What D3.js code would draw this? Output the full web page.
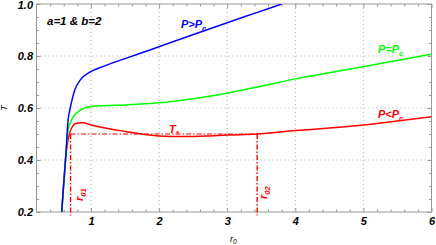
<!DOCTYPE html>
<html>
<head>
<meta charset="utf-8">
<script src="https://cdn.jsdelivr.net/npm/d3@7"></script>
<style>
  body { margin: 0; background: #fff; }
  svg { display: block; font-family: "Liberation Sans", Arial, sans-serif; }
</style>
</head>
<body>
<svg id="chart" width="436" height="245"></svg>
<script>
// data
const rBlue  = [0.57, 0.60, 0.626, 0.664, 0.689, 0.73, 0.762, 0.85, 0.983, 1.2, 1.5, 1.864, 2.4, 3.0, 3.4, 3.8];
const tBlue  = [0.20, 0.31, 0.40, 0.554, 0.592, 0.64, 0.669, 0.71, 0.738, 0.762, 0.790, 0.823, 0.873, 0.928, 0.964, 1.0];

const rGreen = [0.57, 0.60, 0.63, 0.664, 0.70, 0.737, 0.80, 0.861, 0.98, 1.2, 1.5, 2.0, 2.5, 3.0, 3.5, 4.0, 4.5, 5.0, 5.5, 6.0];
const tGreen = [0.20, 0.31, 0.42, 0.515, 0.545, 0.565, 0.583, 0.595, 0.605, 0.609, 0.612, 0.620, 0.636, 0.657, 0.684, 0.712, 0.736, 0.759, 0.783, 0.807];

const rRed   = [0.57, 0.60, 0.625, 0.664, 0.714, 0.787, 0.88, 1.0, 1.5, 1.864, 2.0, 2.3, 2.7, 3.0, 3.44, 4.0, 4.5, 5.0, 5.5, 6.0];
const tRed   = [0.20, 0.31, 0.40, 0.477, 0.522, 0.541, 0.543, 0.535, 0.510, 0.496, 0.492, 0.490, 0.492, 0.496, 0.500, 0.513, 0.523, 0.535, 0.550, 0.566];

const tStar = 0.5;
const r01 = 0.70;
const r02 = 3.44;

const xMajor = [1, 2, 3, 4, 5, 6];
const yMajor = [0.2, 0.4, 0.6, 0.8, 1.0];
const xGrid = [1, 2, 3, 4, 5];
const yGrid = [0.4, 0.6, 0.8];

const svg = d3.select("#chart");
const mLeft = 36.5, mRight = 431.5, mTop = 4, mBottom = 212;

const x = d3.scaleLinear().domain([0.2, 6]).range([mLeft, mRight]);
const y = d3.scaleLinear().domain([0.2, 1.0]).range([mBottom, mTop]);

const xMinor = d3.range(2, 31).map(d => d / 5).filter(d => !xMajor.some(m => Math.abs(m - d) < 1e-9));
const yMinor = d3.range(4, 21).map(d => d / 20).filter(d => !yMajor.some(m => Math.abs(m - d) < 1e-9));

// grid
svg.append("g").selectAll("line")
  .data(xGrid).enter().append("line")
  .attr("x1", d => x(d)).attr("x2", d => x(d))
  .attr("y1", mTop).attr("y2", mBottom)
  .style("stroke", "#aaa").style("stroke-dasharray", "1,3");
svg.append("g").selectAll("line")
  .data(yGrid).enter().append("line")
  .attr("y1", d => y(d)).attr("y2", d => y(d))
  .attr("x1", mLeft).attr("x2", mRight)
  .style("stroke", "#aaa").style("stroke-dasharray", "1,3");

// frame ticks (inward), mathematica style
function styleAxis(g) {
  g.select(".domain").remove();
  g.selectAll("line").style("stroke", "#999");
  g.selectAll("text")
    .style("font-size", "11px")
    .style("font-weight", "bold")
    .style("font-style", "italic")
    .style("fill", "#000");
}

svg.append("g").attr("transform", `translate(0,${mBottom})`)
  .call(d3.axisBottom(x).tickValues(xMajor).tickSizeInner(-4).tickSizeOuter(0).tickPadding(5).tickFormat(d3.format("d")))
  .call(styleAxis);
svg.append("g").attr("transform", `translate(0,${mBottom})`)
  .call(d3.axisBottom(x).tickValues(xMinor).tickSizeInner(-2.5).tickSizeOuter(0).tickFormat(""))
  .call(styleAxis);
svg.append("g").attr("transform", `translate(0,${mTop})`)
  .call(d3.axisTop(x).tickValues(xMajor).tickSizeInner(-4).tickSizeOuter(0).tickFormat(""))
  .call(styleAxis);
svg.append("g").attr("transform", `translate(0,${mTop})`)
  .call(d3.axisTop(x).tickValues(xMinor).tickSizeInner(-2.5).tickSizeOuter(0).tickFormat(""))
  .call(styleAxis);

svg.append("g").attr("transform", `translate(${mLeft},0)`)
  .call(d3.axisLeft(y).tickValues(yMajor).tickSizeInner(-4).tickSizeOuter(0).tickPadding(3.5).tickFormat(d3.format(".1f")))
  .call(styleAxis)
  .selectAll("text").filter(d => d === 1.0)
  .attr("dy", "0.45em");   // keep the top label inside the picture
svg.append("g").attr("transform", `translate(${mLeft},0)`)
  .call(d3.axisLeft(y).tickValues(yMinor).tickSizeInner(-2.5).tickSizeOuter(0).tickFormat(""))
  .call(styleAxis);
svg.append("g").attr("transform", `translate(${mRight},0)`)
  .call(d3.axisRight(y).tickValues(yMajor).tickSizeInner(-4).tickSizeOuter(0).tickFormat(""))
  .call(styleAxis);
svg.append("g").attr("transform", `translate(${mRight},0)`)
  .call(d3.axisRight(y).tickValues(yMinor).tickSizeInner(-2.5).tickSizeOuter(0).tickFormat(""))
  .call(styleAxis);

svg.append("rect")
  .attr("x", mLeft).attr("y", mTop)
  .attr("width", mRight - mLeft).attr("height", mBottom - mTop)
  .style("fill", "none").style("stroke", "#999").style("stroke-width", 1);

// clip
svg.append("clipPath").attr("id", "plotClip")
  .append("rect").attr("x", mLeft).attr("y", mTop).attr("width", mRight - mLeft).attr("height", mBottom - mTop);

const line = d3.line()
  .x(d => x(d[0]))
  .y(d => y(d[1]))
  .curve(d3.curveMonotoneX);

const plot = svg.append("g").attr("clip-path", "url(#plotClip)");

// dash-dot helper lines
plot.append("line")
  .attr("x1", x(r01)).attr("x2", x(r02))
  .attr("y1", y(tStar)).attr("y2", y(tStar))
  .style("stroke", "#ff0000").style("stroke-width", 1.1)
  .style("stroke-dasharray", "5,2,1.5,2");

svg.selectAll(".vdash").data([r01, r02]).enter().append("line")
  .attr("x1", d => x(d)).attr("x2", d => x(d))
  .attr("y1", y(tStar)).attr("y2", y(0.187))
  .style("stroke", "#ff0000").style("stroke-width", 1.4)
  .style("stroke-dasharray", "5,2,1.5,2");

const series = [
  { r: rRed, t: tRed, color: "#ff0000" },
  { r: rGreen, t: tGreen, color: "#00ff00" },
  { r: rBlue, t: tBlue, color: "#0000ff" }
];

plot.selectAll(".curve").data(series).enter().append("path")
  .attr("d", s => line(s.r.map((v, i) => [v, s.t[i]])))
  .style("fill", "none")
  .style("stroke", s => s.color)
  .style("stroke-width", 1.5);

// labels
function label(txt, sub, px, py, color, size) {
  const t = svg.append("text")
    .attr("x", px).attr("y", py)
    .style("font-size", size + "px")
    .style("font-weight", "bold")
    .style("font-style", "italic")
    .style("fill", color);
  t.append("tspan").text(txt);
  if (sub) {
    t.append("tspan").attr("dy", size * 0.3).style("font-size", (size * 0.7) + "px").text(sub);
  }
  return t;
}

label("a=1 & b=2", null, 47, 25, "#000", 11.5);
label("P>P", "c", 181, 28, "#0000ff", 11);
label("P=P", "c", 378, 53, "#00ff00", 11);
label("P<P", "c", 378, 118, "#ff0000", 11);
label("T", "*", 169, 133, "#ff0000", 11);

label("r", "01", 0, 0, "#ff0000", 11)
  .attr("transform", `translate(${x(r01) + 12},${201}) rotate(-90)`);
label("r", "02", 0, 0, "#ff0000", 11)
  .attr("transform", `translate(${x(r02) + 10},${199}) rotate(-90)`);

// axis titles
svg.append("text")
  .attr("transform", "translate(7,108) rotate(-90)")
  .attr("text-anchor", "middle")
  .style("font-size", "9px").style("font-style", "italic")
  .text("T");

const xt = svg.append("text")
  .attr("x", 230).attr("y", 242)
  .style("font-size", "9px").style("font-style", "italic");
xt.append("tspan").text("r");
xt.append("tspan").attr("dy", 2).style("font-size", "6.5px").text("0");
</script>
</body>
</html>
